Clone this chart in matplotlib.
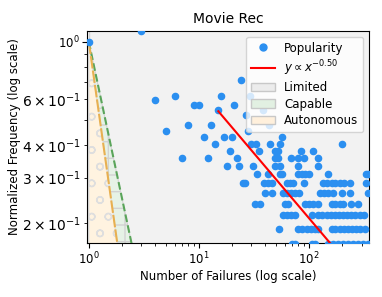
import numpy as np
import matplotlib
matplotlib.use("Agg")
import matplotlib.pyplot as plt
from matplotlib.patches import Patch
from matplotlib.lines import Line2D

# raw counts per failure number (normalised by the count at x=1)
max_count = 42
fail_x = [1, 3, 4, 5, 6, 7, 8, 9, 10, 11, 12, 13, 14, 15, 16, 17, 18, 19, 20,
          21, 22, 23, 24, 25, 26, 27, 28, 29, 30, 31, 32, 33, 34, 35, 36, 38,
          39, 40, 42, 42, 43, 44, 46, 46,
          57, 54, 200, 49, 52, 85, 108, 49, 52, 68, 79, 89, 120, 49, 55, 79, 121,
          54, 57, 80, 86, 92, 100, 149, 331, 343,
          63, 67, 72, 89, 134, 146, 160, 173, 190, 207, 234, 331,
          58, 63, 69, 75, 81, 126, 136, 149, 165, 197, 234, 343,
          61, 65, 92, 100, 109, 121, 160, 173, 190, 204, 242, 277,
          58, 63, 69, 75, 106, 121, 132, 144, 157, 171, 186, 204, 221, 242, 262, 287, 313,
          53, 80, 87, 95, 104, 113, 121, 160, 173, 190, 207, 226, 246, 268, 291, 320,
          70, 75, 106, 113, 149, 165, 183, 204, 226, 251, 277, 309, 343]
fail_k = [42, 46, 25, 19, 26, 15, 20, 24, 24, 18, 15, 20, 17, 23, 26, 18, 14, 16, 18,
          24, 15, 14, 30, 12, 12, 22, 19, 26, 17, 14, 10, 17, 13, 16, 10, 23,
          12, 11, 13, 12, 20, 17, 11, 12,
          18, 17, 17, 16, 16, 16, 16, 15, 15, 15, 15, 15, 15, 14, 14, 14, 14,
          13, 13, 13, 13, 13, 13, 13, 13, 13,
          12, 12, 12, 12, 12, 12, 12, 12, 12, 12, 12, 12,
          11, 11, 11, 11, 11, 11, 11, 11, 11, 11, 11, 11,
          10, 10, 10, 10, 10, 10, 10, 10, 10, 10, 10, 10,
          9, 9, 9, 9, 9, 9, 9, 9, 9, 9, 9, 9, 9, 9, 9, 9, 9,
          8, 8, 8, 8, 8, 8, 8, 8, 8, 8, 8, 8, 8, 8, 8, 8,
          7, 7, 7, 7, 7, 7, 7, 7, 7, 7, 7, 7, 7]

fit_alpha = 0.50
fit_coef = 2.09
fit_xmin = 15
x_max = 350

x = np.array(fail_x, dtype=float)
y = np.array(fail_k, dtype=float) / max_count

fig = plt.figure(figsize=(3.82, 2.97), dpi=100)
ax = fig.add_axes([0.228, 0.182, 0.738, 0.714])

xs = np.logspace(0, np.log10(x_max * 1.1), 300)
ax.fill_between(xs, 1e-3, 10, color="#f2f2f2", edgecolor="#d0d0d0", zorder=0)
ax.fill_between(xs, 1e-3, xs ** -2.0, color="#e6f2e6", edgecolor="#d2d2d2",
                hatch="+", linewidth=0.8, zorder=1)
ax.fill_between(xs, 1e-3, xs ** -3.0, color="#fff3e0", edgecolor="#dedede",
                hatch="o", linewidth=0.8, zorder=2)
ax.plot(xs, xs ** -2.0, color="#5aa55a", ls="--", lw=1.5, zorder=3)
ax.plot(xs, xs ** -3.0, color="#e8b050", ls=(0, (6, 1)), lw=1.5, zorder=3)

ax.scatter(x, y, s=20, color="#2b8ff0", zorder=4)
xf = np.logspace(np.log10(fit_xmin), np.log10(x_max * 1.1), 100)
ax.plot(xf, fit_coef * xf ** -fit_alpha, color="red", lw=1.5, zorder=5)

ax.set_xscale("log")
ax.set_yscale("log")
ax.set_xlim(0.965, x_max)
ax.set_ylim(0.168, 1.1)
ax.tick_params(labelsize=8.5, pad=2)
ax.tick_params(which="minor", pad=2)
ax.set_title("Movie Rec", fontsize=10)
ax.set_xlabel("Number of Failures (log scale)", fontsize=8.5, labelpad=2)
ax.set_ylabel("Normalized Frequency (log scale)", fontsize=8.5, labelpad=1)

handles = [
    Line2D([], [], marker="o", ls="", color="#2b8ff0", markersize=5),
    Line2D([], [], color="red", lw=1.5),
    Patch(facecolor="#ececec", edgecolor="#c8c8c8"),
    Patch(facecolor="#e2f0e2", edgecolor="#c8c8c8"),
    Patch(facecolor="#fff0dc", edgecolor="#c8c8c8"),
]
labels = ["Popularity", r"$y \propto x^{-%.2f}$" % fit_alpha,
          "Limited", "Capable", "Autonomous"]
ax.legend(handles, labels, loc="upper right", fontsize=8.5, framealpha=0.8,
          labelspacing=0.3)

fig.savefig("out.png", dpi=100)
